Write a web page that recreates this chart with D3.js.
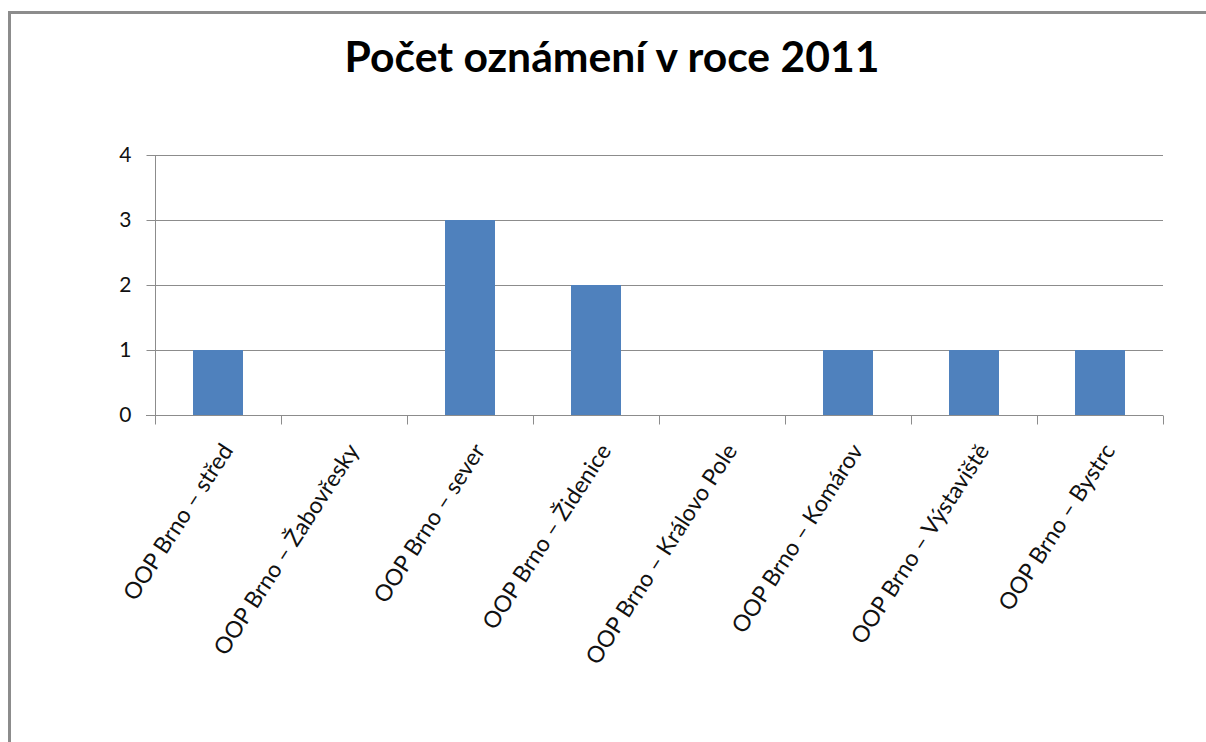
<!DOCTYPE html>
<html><head><meta charset="utf-8">
<script src="https://cdn.jsdelivr.net/npm/d3@7"></script>
<style>
body{margin:0;background:#fff;}
svg{display:block;font-family:Lato,"Open Sans",sans-serif;}
</style></head>
<body>
<svg id="chart" width="1206" height="742"></svg>
<script>
const title = "Počet oznámení v roce 2011";
const categories = ["OOP Brno – střed","OOP Brno – Žabovřesky","OOP Brno – sever","OOP Brno – Židenice","OOP Brno – Královo Pole","OOP Brno – Komárov","OOP Brno – Výstaviště","OOP Brno – Bystrc"];
const values = [1,0,3,2,0,1,1,1];
const yTicks = [0,1,2,3,4];

(function(){
const svg = d3.select("#chart");
svg.append("path").attr("d","M9.5,742 V12.5 H1206").attr("fill","none").attr("stroke","#8c8c8c").attr("stroke-width",3);

const pL=155, pR=1163, pT=155, pB=415;
const x = d3.scaleBand().domain(categories).range([pL,pR]).paddingInner(0).paddingOuter(0);
const y = d3.scaleLinear().domain([0,4]).range([pB,pT]);

svg.append("g").selectAll("line").data(yTicks.filter(d=>d>0)).join("line")
  .attr("x1",pL).attr("x2",pR).attr("y1",d=>Math.round(y(d))+0.5).attr("y2",d=>Math.round(y(d))+0.5)
  .attr("stroke","#8c8c8c").attr("stroke-width",1);

const barW = 50;
svg.append("g").selectAll("rect").data(values).join("rect")
  .attr("x",(d,i)=>x(categories[i])+x.bandwidth()/2-barW/2)
  .attr("width",barW)
  .attr("y",d=>y(d)).attr("height",d=>y(0)-y(d))
  .attr("fill","#4f81bd");

const yAxis = d3.axisLeft(y).tickValues(yTicks).tickSize(9).tickPadding(15).tickFormat(d3.format("d"));
const gy = svg.append("g").attr("transform",`translate(${pL+0.5},0)`).call(yAxis);
gy.select(".domain").attr("stroke","#8c8c8c").attr("d",`M0,${pT}V${pB}`);
gy.selectAll(".tick line").attr("stroke","#8c8c8c");
gy.selectAll(".tick text").attr("font-size",21).attr("fill","#111").attr("font-family","Lato");

const gx = svg.append("g").attr("transform",`translate(0,${pB+0.5})`);
gx.append("line").attr("x1",pL-9).attr("x2",pR).attr("stroke","#8c8c8c");
const bounds = categories.map(c=>x(c)).concat([pR]);
gx.selectAll("line.t").data(bounds).join("line").attr("class","t")
  .attr("x1",d=>Math.round(d)+0.5).attr("x2",d=>Math.round(d)+0.5).attr("y1",0).attr("y2",9).attr("stroke","#8c8c8c");
gx.selectAll("text").data(categories).join("text")
  .attr("transform",d=>`translate(${x(d)+x.bandwidth()/2+16},${35}) rotate(-57)`)
  .attr("text-anchor","end").attr("font-size",23).attr("fill","#111").attr("font-family","Lato")
  .text(d=>d);

const t = svg.append("text").attr("x",612).attr("y",72).attr("text-anchor","middle")
  .attr("font-size",38).attr("font-weight","bold").attr("font-family","Lato").attr("fill","#000").text(title);
const w = t.node().getComputedTextLength();
t.attr("font-size",38*535/w);
})();
</script>
</body></html>
